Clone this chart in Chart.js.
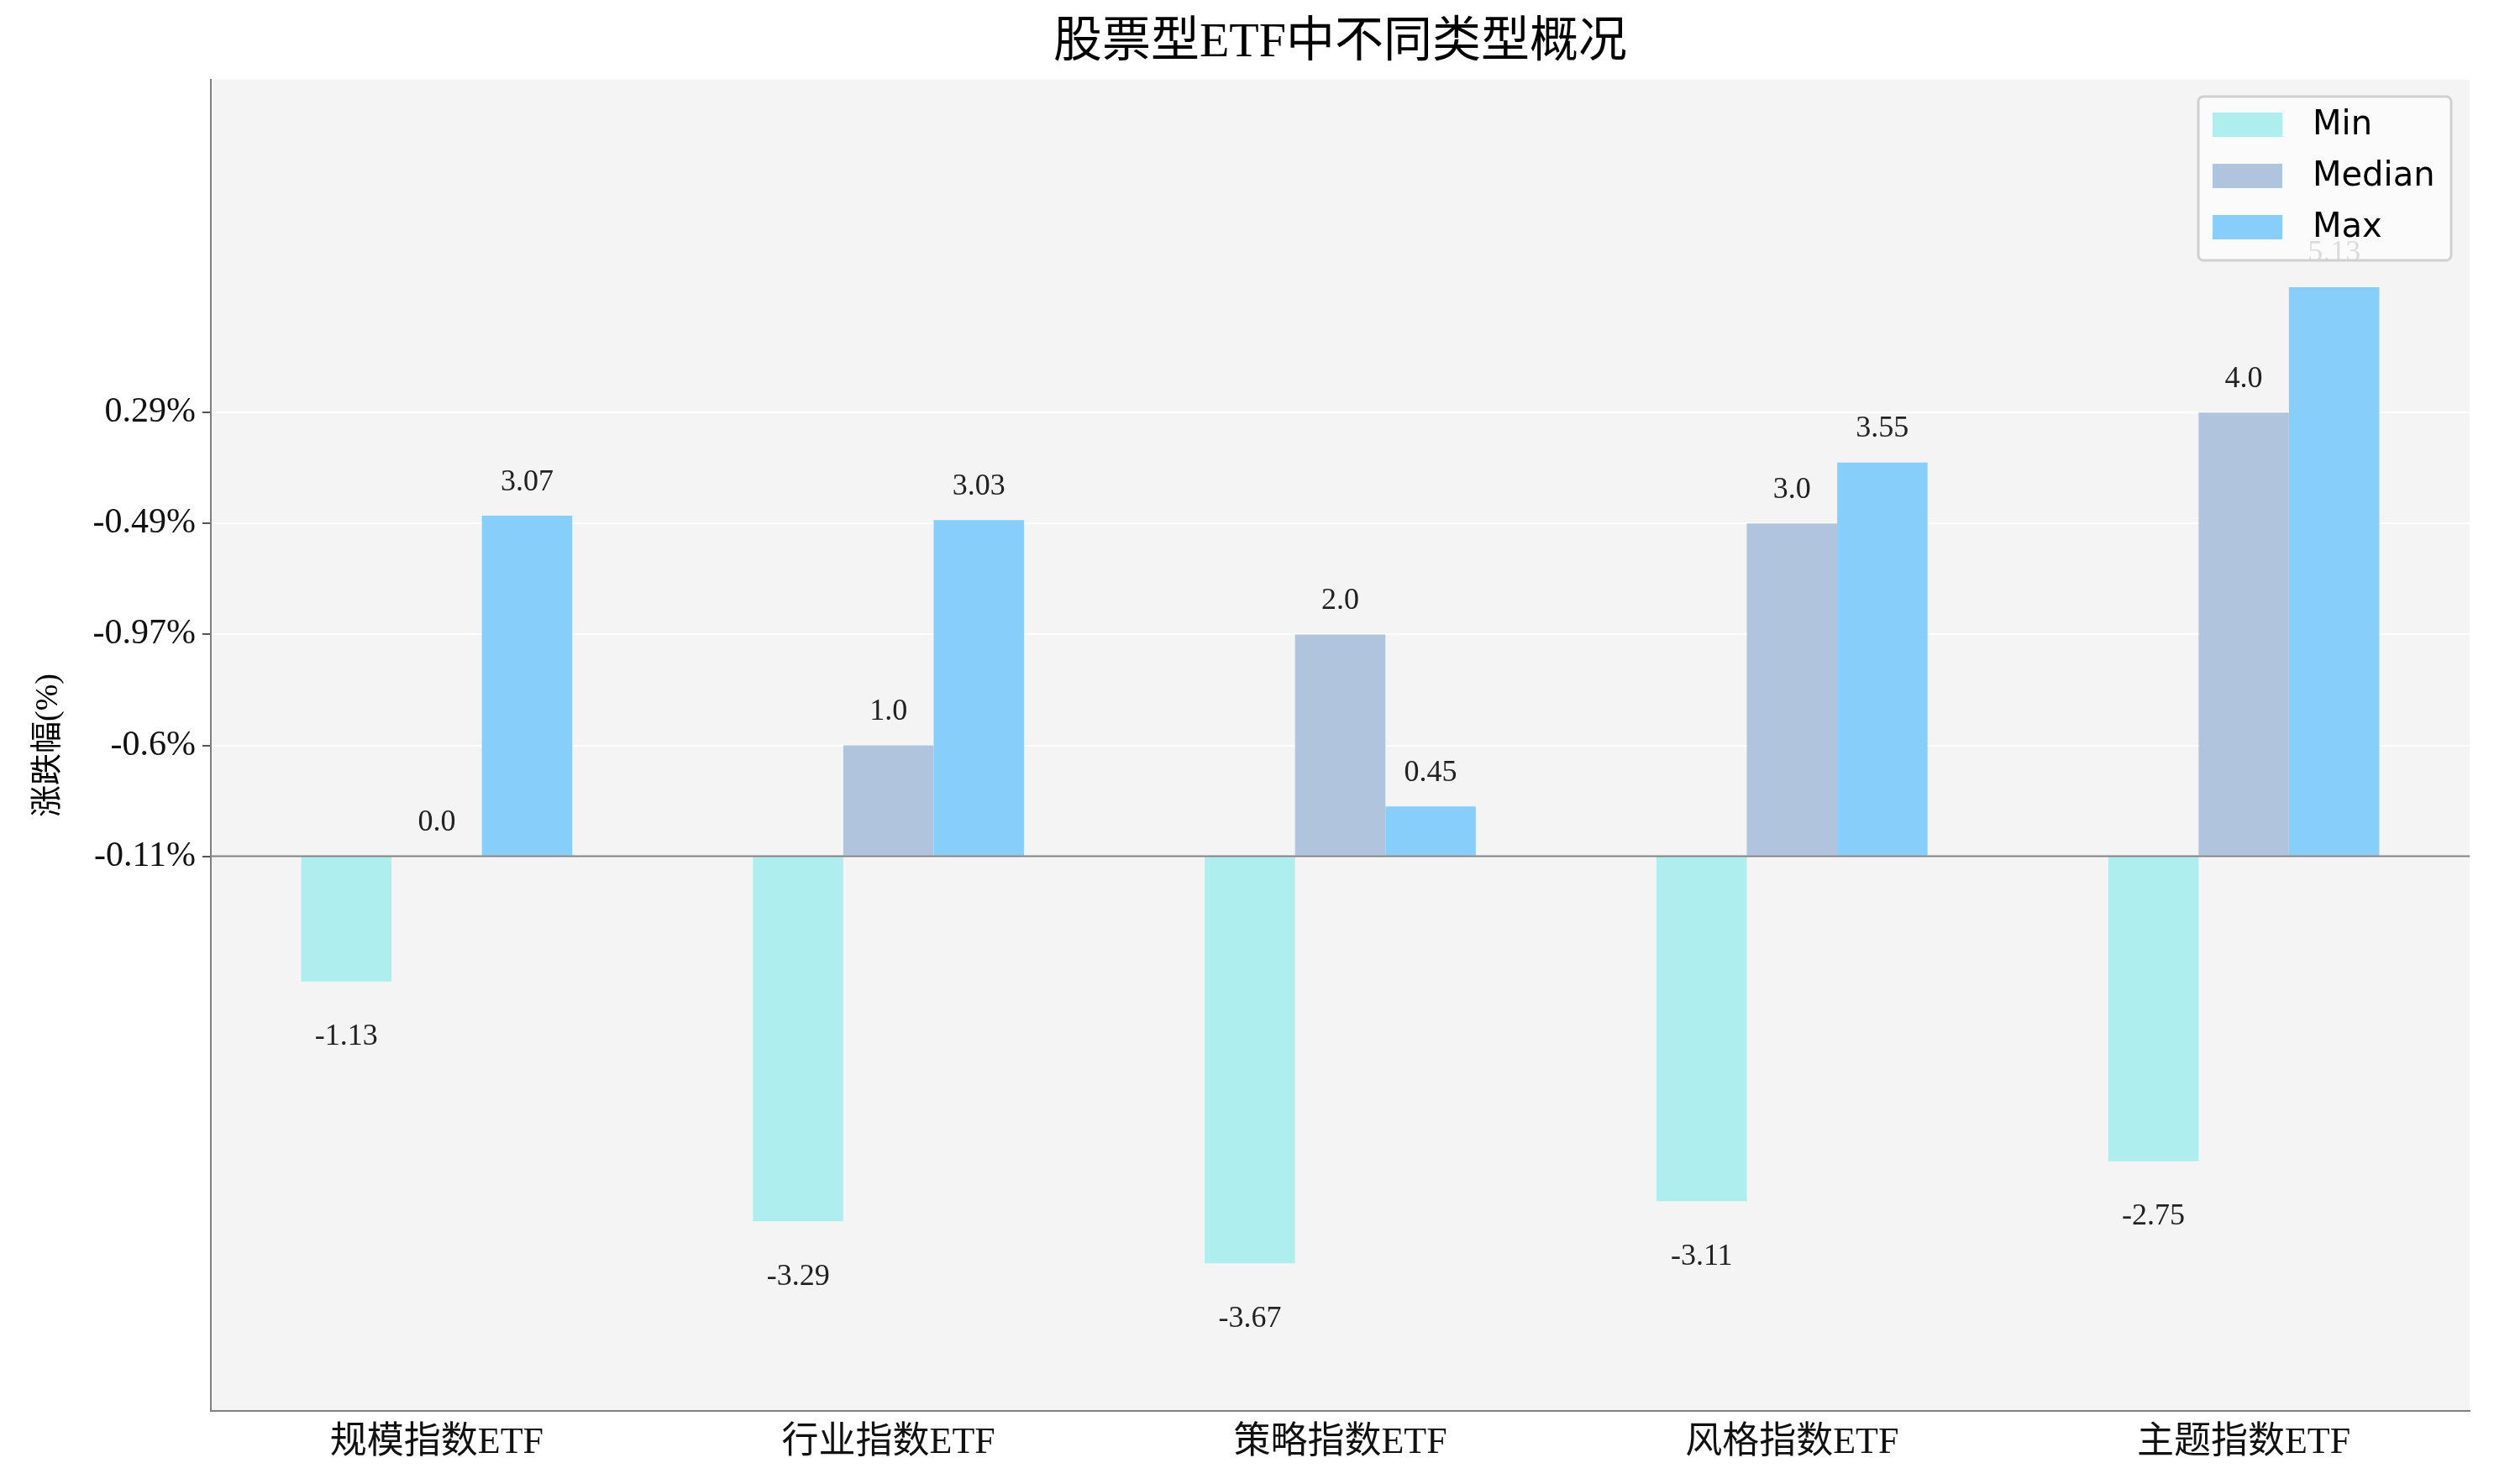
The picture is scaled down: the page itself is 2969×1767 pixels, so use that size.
<!DOCTYPE html>
<html><head><meta charset="utf-8">
<script src="https://cdn.jsdelivr.net/npm/chart.js@4/dist/chart.umd.min.js"></script>
<style>html,body{margin:0;padding:0;background:#fff}</style>
</head><body>
<canvas id="c" width="2969" height="1767" style="width:2969px;height:1767px"></canvas>
<script>
const categories = ["规模指数ETF","行业指数ETF","策略指数ETF","风格指数ETF","主题指数ETF"];
const minVals = [-1.13,-3.29,-3.67,-3.11,-2.75];
const medianVals = [0.0,1.0,2.0,3.0,4.0];
const maxVals = [3.07,3.03,0.45,3.55,5.13];
const tickValues = [0,1,2,3,4];
const tickLabels = ["-0.11%","-0.6%","-0.97%","-0.49%","0.29%"];
const seriesNames = ["Min","Median","Max"];
const colors = ["#afeeee","#b0c4de","#87cefa"];
const SERIF = "'Liberation Serif','Noto Sans CJK SC',serif";

const fmt = v => (Number.isInteger(v) ? v.toFixed(1) : String(v));

const plugin = {
  id:'custom',
  beforeDraw(chart){
    const {ctx, chartArea:a} = chart;
    ctx.save(); ctx.fillStyle='#f4f4f4';
    ctx.fillRect(a.left,a.top,a.right-a.left,a.bottom-a.top); ctx.restore();
  },
  afterDatasetsDraw(chart){
    const {ctx, chartArea:a, scales} = chart;
    ctx.save();
    const y0 = scales.y.getPixelForValue(0);
    ctx.strokeStyle='#808080'; ctx.lineWidth=2;
    ctx.beginPath(); ctx.moveTo(a.left,y0); ctx.lineTo(a.right,y0); ctx.stroke();
    ctx.font = "36px "+SERIF; ctx.textAlign='center'; ctx.fillStyle='#222';
    chart.data.datasets.forEach((ds,i)=>{
      chart.getDatasetMeta(i).data.forEach((bar,j)=>{
        const v = ds.data[j];
        if (v < 0){ ctx.textBaseline='top'; ctx.fillText(fmt(v), bar.x, bar.y+48); }
        else { ctx.textBaseline='bottom'; ctx.fillText(fmt(v), bar.x, bar.y-22); }
      });
    });
    // title
    ctx.fillStyle='#000'; ctx.font="58px "+SERIF; ctx.textBaseline='middle';
    ctx.fillText("股票型ETF中不同类型概况", (a.left+a.right)/2, 52);
    // y title
    ctx.save(); ctx.translate(58,(a.top+a.bottom)/2); ctx.rotate(-Math.PI/2);
    ctx.font="38px "+SERIF; ctx.fillText("涨跌幅(%)",0,0); ctx.restore();
    // legend
    ctx.fillStyle='rgba(252,252,252,0.85)'; ctx.strokeStyle='#d0d0d0'; ctx.lineWidth=3;
    ctx.beginPath(); ctx.roundRect(2617,115,301,195,6); ctx.fill(); ctx.stroke();
    ctx.font="40px 'DejaVu Sans'"; ctx.textAlign='left'; ctx.textBaseline='middle';
    seriesNames.forEach((n,i)=>{
      const cy = 148+61*i;
      ctx.fillStyle=colors[i]; ctx.fillRect(2634,cy-14,83,29);
      ctx.fillStyle='#000'; ctx.fillText(n,2753,cy+2);
    });
    ctx.restore();
  }
};

new Chart(document.getElementById('c'), {
  type:'bar',
  data:{labels:categories, datasets: seriesNames.map((n,i)=>({
    label:n, data:[minVals,medianVals,maxVals][i], backgroundColor:colors[i],
    categoryPercentage:0.6, barPercentage:1.0 }))},
  options:{
    responsive:false, animation:false, devicePixelRatio:1,
    layout:{padding:{top:95,right:29,left:0,bottom:0}},
    plugins:{legend:{display:false}, title:{display:false}, tooltip:{enabled:false}},
    scales:{
      x:{grid:{display:false, drawTicks:true, tickLength:10, tickColor:'#555'},
         border:{color:'#808080', width:2},
         ticks:{color:'#111', font:{size:44, family:SERIF}, padding:2},
         afterFit(s){ s.height=87; }},
      y:{min:-5, max:7,
         afterBuildTicks(s){ s.ticks = tickValues.map(v=>({value:v})); },
         ticks:{color:'#111', font:{size:42, family:SERIF}, padding:8,
                callback:(v)=>{ const k=tickValues.indexOf(v); return k>=0?tickLabels[k]:''; }},
         grid:{color:'#ffffff', lineWidth:2, drawTicks:true, tickLength:10, tickColor:'#555'},
         border:{color:'#808080', width:2},
         afterFit(s){ s.width=251; }}
    }
  },
  plugins:[plugin]
});
</script>
</body></html>
